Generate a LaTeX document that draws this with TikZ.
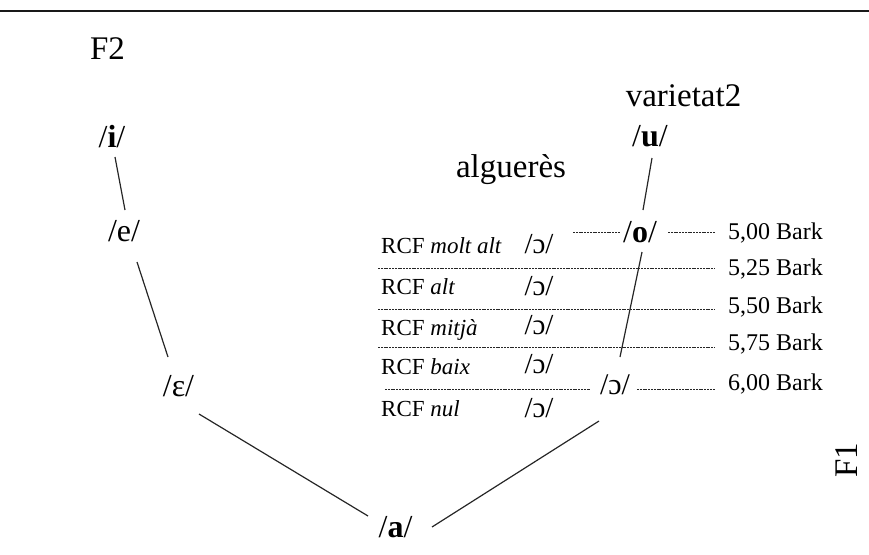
\documentclass[tikz,border=0pt]{standalone}
\usepackage{fontspec}
\setmainfont{Liberation Serif}
\usetikzlibrary{calc}
\begin{document}
\begin{tikzpicture}[x=1pt,y=-1pt,
  big/.style={font=\fontsize{33}{36}\selectfont, inner sep=0pt, anchor=base},
  ph/.style={font=\fontsize{32}{36}\selectfont, inner sep=0pt, anchor=base},
  rcf/.style={font=\fontsize{23}{25}\selectfont, inner sep=0pt, anchor=base west},
  oc/.style={font=\fontsize{29}{31}\selectfont, inner sep=0pt, anchor=base},
  bark/.style={font=\fontsize{24}{26}\selectfont, inner sep=0pt, anchor=base west},
  conn/.style={line width=1.2pt, draw=black!85},
  dl/.style={line width=0.9pt, draw=black!85, dash pattern=on 2pt off 0.8pt}]
\useasboundingbox (0,0) rectangle (869,554);
% top rule
\coordinate (TL) at (0,11);
\coordinate (TR) at (869,11);
\draw[line width=2.8pt, draw=black!90] (TL) -- (TR);

% axis labels
\node[big] (F2) at (107.5,59) {F2};
\node[big, rotate=90] (F1) at (857,460) {F1};
\node[big] (var) at (683.5,106) {varietat2};
\node[big] (alg) at (511,177) {alguerès};

% vowels
\node[ph] (i) at (112,147) {/\textbf{i}/};
\node[ph] (e) at (124,241) {/e/};
\node[ph] (eps) at (178.5,396) {/ɛ/};
\node[ph] (a) at (395.5,537) {/\textbf{a}/};
\node[ph] (u) at (650,146) {/\textbf{u}/};
\node[ph] (o) at (640,242) {/\textbf{o}/};
\node[ph, font=\fontsize{30}{32}\selectfont] (oR) at (615,394) {/ɔ/};

% connectors
\draw[conn] ([shift={(3,10)}]i.base) -- ([shift={(1,-31)}]e.base);
\draw[conn] ([shift={(13,21)}]e.base) -- ([shift={(-10.5,-39)}]eps.base);
\draw[conn] ([shift={(20.5,18)}]eps.base) -- ([shift={(-27.5,-21)}]a.base);
\draw[conn] ([shift={(36.5,-10)}]a.base) -- ([shift={(-16,27)}]oR.base);
\draw[conn] ([shift={(2,12)}]u.base) -- ([shift={(3,-32)}]o.base);
\draw[conn] ([shift={(2,10)}]o.base) -- ([shift={(5,-37)}]oR.base);

% RCF rows
\node[rcf] (r1) at (381,253) {RCF \textit{molt alt}};
\node[rcf] (r2) at (381,294) {RCF \textit{alt}};
\node[rcf] (r3) at (381,335) {RCF \textit{mitjà}};
\node[rcf] (r4) at (381,374) {RCF \textit{baix}};
\node[rcf] (r5) at (381,416) {RCF \textit{nul}};
\node[oc] (c1) at (539,253) {/ɔ/};
\node[oc] (c2) at (539,295) {/ɔ/};
\node[oc] (c3) at (539,334) {/ɔ/};
\node[oc] (c4) at (539,373) {/ɔ/};
\node[oc] (c5) at (539,417) {/ɔ/};

% Bark labels
\node[bark] (b1) at (728,239) {5,00 Bark};
\node[bark] (b2) at (728,275) {5,25 Bark};
\node[bark] (b3) at (728,313) {5,50 Bark};
\node[bark] (b4) at (728,350) {5,75 Bark};
\node[bark] (b5) at (728,390) {6,00 Bark};

% dashed level lines
\coordinate (L1) at (573,232);
\coordinate (L2) at (378,268);
\coordinate (L3) at (378,309);
\coordinate (L4) at (378,347);
\coordinate (L5) at (385,389);
\draw[dl] (L1) -- ([shift={(-20,-10)}]o.base);
\draw[dl] ([shift={(28,-10)}]o.base) -- ([xshift=-13pt]b1.west |- L1);
\draw[dl] (L2) -- ([xshift=-13pt]b2.west |- L2);
\draw[dl] (L3) -- ([xshift=-13pt]b3.west |- L3);
\draw[dl] (L4) -- ([xshift=-13pt]b4.west |- L4);
\draw[dl] (L5) -- ([shift={(-25,-5)}]oR.base);
\draw[dl] ([shift={(22,-5)}]oR.base) -- ([xshift=-13pt]b5.west |- L5);
\end{tikzpicture}
\end{document}
